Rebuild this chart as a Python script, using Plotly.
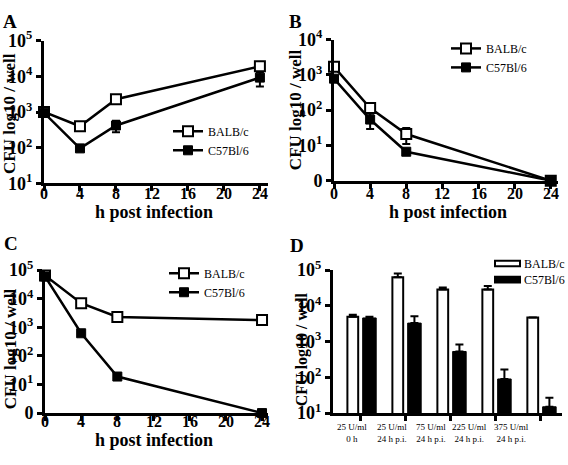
import plotly.graph_objects as go

W, H = 568, 465
SERIF = "Liberation Serif"

# ---------------- data ----------------
hours = [0, 4, 8, 24]
hour_ticks = [0, 4, 8, 12, 16, 20, 24]

# Panel A
a_balb = [1000, 400, 2280, 19000]
a_balb_err = [100, 40, 250, 3000]
a_c57 = [950, 96, 420, 9200]
a_c57_err = [100, 10, 150, 4000]

# Panel B (0 on the axis is drawn at 10^0)
b_balb = [1700, 115, 21, 1]
b_balb_err = [300, 15, 10, 0]
b_c57 = [780, 54, 6.6, 1]
b_c57_err = [100, 25, 0.8, 0]

# Panel C
c_balb = [65000, 7000, 2300, 1800]
c_balb_err = [8000, 600, 200, 150]
c_c57 = [60000, 620, 19, 1]
c_c57_err = [15000, 60, 3, 0]

# Panel D
d_labels = ["25 U/ml<br>0 h", "25 U/ml<br>24 h p.i.", "75 U/ml<br>24 h p.i.",
            "225 U/ml<br>24 h p.i.", "375 U/ml<br>24 h p.i."]
d_pos = [0, 1, 2, 3, 4]
d_balb = [5000, 63000, 29000, 29000, 4700]
d_balb_err = [700, 18000, 4000, 7000, 0]
d_c57 = [4600, 3300, 530, 90, 15]
d_c57_err = [400, 1800, 300, 75, 12]

series_names = ["BALB/c", "C57Bl/6"]

# ---------------- helpers ----------------
def px_x(x):
    return x / W

def px_y(y):
    return 1 - y / H

def sup(e):
    return "<b>10<sup>%d</sup></b>" % e

fig = go.Figure()

def line_pair(xa, ya, balb, balb_err, c57, c57_err, legend):
    fig.add_trace(go.Scatter(
        x=hours, y=balb, name=series_names[0], xaxis=xa, yaxis=ya, legend=legend,
        mode="lines+markers", cliponaxis=False,
        line=dict(color="black", width=2.5),
        marker=dict(symbol="square", size=10, color="white", line=dict(color="black", width=2)),
        error_y=dict(type="data", array=balb_err, color="black", thickness=2, width=4),
    ))
    fig.add_trace(go.Scatter(
        x=hours, y=c57, name=series_names[1], xaxis=xa, yaxis=ya, legend=legend,
        mode="lines+markers", cliponaxis=False,
        line=dict(color="black", width=2.5),
        marker=dict(symbol="square", size=9, color="black", line=dict(color="black", width=1)),
        error_y=dict(type="data", array=c57_err, color="black", thickness=2, width=4),
    ))

line_pair("x", "y", a_balb, a_balb_err, a_c57, a_c57_err, "legend")
line_pair("x2", "y2", b_balb, b_balb_err, b_c57, b_c57_err, "legend2")
line_pair("x3", "y3", c_balb, c_balb_err, c_c57, c_c57_err, "legend3")

fig.add_trace(go.Bar(
    x=d_pos, y=d_balb, name=series_names[0], xaxis="x4", yaxis="y4", showlegend=False,
    offset=-0.30, width=0.24,
    marker=dict(color="white", line=dict(color="black", width=2)),
    error_y=dict(type="data", array=d_balb_err, arrayminus=[0] * 5, symmetric=False,
                 color="black", thickness=2, width=4),
))
fig.add_trace(go.Bar(
    x=d_pos, y=d_c57, name=series_names[1], xaxis="x4", yaxis="y4", showlegend=False,
    offset=0.04, width=0.30,
    marker=dict(color="black", line=dict(color="black", width=1)),
    error_y=dict(type="data", array=d_c57_err, arrayminus=[0] * 5, symmetric=False,
                 color="black", thickness=2, width=4),
))

# ---------------- axes ----------------
axline = dict(showline=True, linecolor="black", linewidth=3, ticks="outside",
              ticklen=5, tickwidth=2.5, tickcolor="black", showgrid=False,
              zeroline=False, fixedrange=True)

def xaxis_time(dom, rng):
    return dict(domain=dom, range=rng, tickvals=hour_ticks, showticklabels=False, **axline)

def yaxis_log(dom, lo, hi, zero_label, anchor):
    vals = [10 ** e for e in range(lo, hi + 1)]
    txt = [sup(e) for e in range(lo, hi + 1)]
    if zero_label:
        txt[0] = "<b>0</b>"
    return dict(domain=dom, type="log", range=[lo, hi], tickvals=vals, ticktext=txt,
                tickfont=dict(family=SERIF, size=18, color="black"), anchor=anchor,
                **axline)

fig.update_layout(
    xaxis=dict(anchor="y", **xaxis_time([px_x(44), px_x(268)], [0, 24.9])),
    yaxis=yaxis_log([px_y(180), px_y(30)], 1, 5, False, "x"),
    xaxis2=dict(anchor="y2", **xaxis_time([px_x(334), px_x(558)], [0, 24.8])),
    yaxis2=yaxis_log([px_y(177), px_y(29)], 0, 4, True, "x2"),
    xaxis3=dict(anchor="y3", **xaxis_time([px_x(45), px_x(268)], [0, 24.66])),
    yaxis3=yaxis_log([px_y(421), px_y(271)], 0, 5, True, "x3"),
    xaxis4=dict(anchor="y4", domain=[px_x(333), px_x(562)], range=[-0.62, 4.47],
                tickvals=d_pos, showticklabels=False, **axline),
    yaxis4=yaxis_log([px_y(421), px_y(271)], 1, 5, False, "x4"),
)

# x tick labels of the time axes (placed just under the ticks)
for xref, ypx in [("x", 191), ("x2", 190), ("x3", 430)]:
    for t in hour_ticks:
        fig.add_annotation(text="<b>%d</b>" % t, xref=xref, yref="paper", x=t,
                           y=px_y(ypx), xanchor="center", yanchor="middle",
                           showarrow=False,
                           font=dict(family=SERIF, size=16, color="black"))

# ---------------- legends ----------------
lfont = dict(family=SERIF, size=12, color="black")
def legend_at(x, y):
    return dict(x=px_x(x), y=px_y(y), xanchor="left", yanchor="top", font=lfont,
                bgcolor="rgba(0,0,0,0)", borderwidth=0, tracegroupgap=0,
                itemwidth=30)

fig.update_layout(
    legend=legend_at(168, 110),
    legend2=legend_at(446, 23),
    legend3=legend_at(164, 259),
    barmode="overlay",
    width=W, height=H, margin=dict(l=0, r=0, t=0, b=0),
    paper_bgcolor="white", plot_bgcolor="white",
    font=dict(family=SERIF, color="black"),
)

# Panel D legend boxes (legend keys, not data marks)
for i, (fill, yc) in enumerate([("white", 264), ("black", 281)]):
    fig.add_shape(type="rect", xref="paper", yref="paper",
                  x0=px_x(495), x1=px_x(520), y0=px_y(yc + 3), y1=px_y(yc - 3),
                  fillcolor=fill, line=dict(color="black", width=2))
    fig.add_annotation(text=series_names[i], xref="paper", yref="paper",
                       x=px_x(522), y=px_y(yc), xanchor="left", yanchor="middle",
                       showarrow=False, font=lfont)

# Panel D category labels
d_shift = [-9, -14, -20, -26, -29]
for p, lab, s in zip(d_pos, d_labels, d_shift):
    fig.add_annotation(text=lab, xref="x4", yref="paper", x=p, y=px_y(428),
                       xanchor="center", yanchor="top", xshift=s, showarrow=False,
                       font=dict(family=SERIF, size=9, color="black"))

# titles and panel letters
def ann(text, x, y, size, angle=0, bold=True):
    fig.add_annotation(text=("<b>%s</b>" % text) if bold else text,
                       xref="paper", yref="paper", x=px_x(x), y=px_y(y),
                       xanchor="center", yanchor="middle", showarrow=False,
                       textangle=angle, font=dict(family=SERIF, size=size, color="black"))

ann("A", 10, 10, 19)
ann("B", 295, 10, 19)
ann("C", 11, 243, 19)
ann("D", 297, 245, 19)

ann("h post infection", 154, 210, 18)
ann("h post infection", 448, 210, 18)
ann("h post infection", 154, 449, 18)

ann("CFU log10 / well", 10, 107, 17, -90)
ann("CFU log10 / well", 295, 103, 17, -90)
ann("CFU log10 / well", 10, 354, 17, -90)
ann("CFU log10 / well", 302, 354, 16, -90)

fig.write_html("out.html", config={"displayModeBar": False},
               post_script="document.body.style.margin='0px';")
